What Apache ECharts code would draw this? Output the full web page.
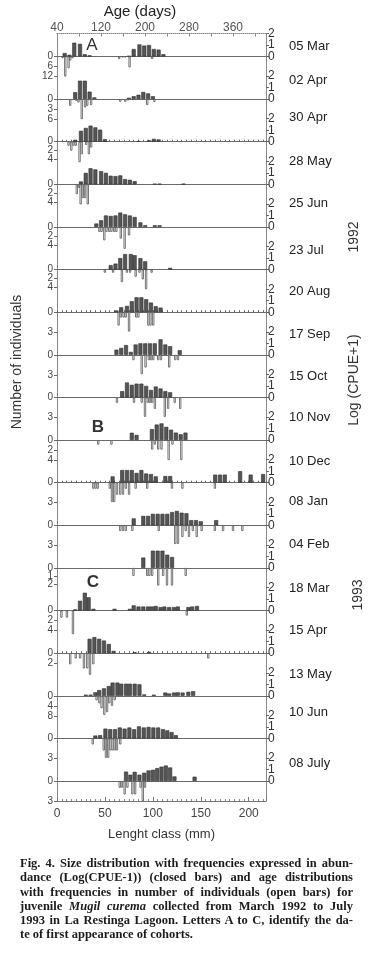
<!DOCTYPE html>
<html>
<head>
<meta charset="utf-8">
<title>Mugil curema - size and age distributions</title>
<script src="https://cdn.jsdelivr.net/npm/echarts@6/dist/echarts.min.js"></script>
<style>
  html, body { margin: 0; padding: 0; background: #fff; }
  #chart { width: 375px; height: 968px; }
  .caption {
    position: absolute; left: 20px; top: 856px; width: 333px;
    font-family: "Liberation Serif", "Times New Roman", serif;
    font-size: 12.5px; line-height: 14.3px; color: #1c1c1c; font-weight: bold;
  }
  .caption div { text-align: justify; text-align-last: justify; }
  .caption div.last { text-align-last: left; }
</style>
</head>
<body>
<div id="chart"></div>
<div class="caption">
  <div>Fig. 4. Size distribution with frequencies expressed in abun-</div>
  <div>dance (Log(CPUE-1)) (closed bars) and age distributions</div>
  <div>with frequencies in number of individuals (open bars) for</div>
  <div>juvenile <i>Mugil curema</i> collected from March 1992 to July</div>
  <div>1993 in La Restinga Lagoon. Letters A to C, identify the da-</div>
  <div class="last">te of first appearance of cohorts.</div>
</div>
<script>
  // sampling dates, top to bottom
  const dates = ['05 Mar', '02 Apr', '30 Apr', '28 May', '25 Jun', '23 Jul', '20 Aug', '17 Sep', '15 Oct',
    '10 Nov', '10 Dec', '08 Jan', '04 Feb', '18 Mar', '15 Apr', '13 May', '10 Jun', '08 July'];

  // closed bars: [length class mm, Log(CPUE+1)]
  const closedMar05 = [[8,0.3],[13,0.15],[18,1.2],[24,1.1],[29,0.2],[34,0.1],[75,0.05],[80,0.65],[86,1.05],[91,0.95],[96,1.0],[101,0.65],[106,0.6],[111,0.2]];
  const closedApr02 = [[19,0.6],[24,1.6],[29,1.6],[34,0.65],[39,0.15],[75,0.12],[80,0.25],[85,0.38],[90,0.62],[95,0.5],[100,0.25]];
  const closedApr30 = [[19,0.17],[25,0.95],[30,1.2],[35,1.4],[40,1.25],[45,1.05],[50,0.22],[85,0.05],[96,0.12],[101,0.25],[106,0.2]];
  const closedMay28 = [[25,0.25],[30,1.0],[35,1.4],[40,1.3],[46,1.15],[51,1.0],[56,0.75],[61,0.72],[66,0.78],[71,0.46],[76,0.4],[81,0.28],[102,0.05],[107,0.05],[132,0.05]];
  const closedJun25 = [[41,0.3],[46,0.58],[51,1.0],[56,0.96],[61,1.0],[66,1.25],[71,1.1],[76,1.0],[81,0.87],[87,0.4],[92,0.15],[102,0.15],[107,0.15]];
  const closedJul23 = [[56,0.38],[61,0.52],[66,1.0],[71,1.35],[77,1.35],[81,1.25],[87,1.0],[92,0.72],[118,0.15]];
  const closedAug20 = [[62,0.15],[67,0.43],[73,0.55],[78,0.96],[83,1.3],[88,1.3],[93,1.13],[98,0.84],[103,0.52],[108,0.4]];
  const closedSep17 = [[62,0.45],[67,0.6],[72,0.85],[77,0.25],[82,0.9],[87,1.0],[92,1.0],[97,1.0],[102,1.0],[108,1.35],[113,0.9],[118,0.75],[128,0.4]];
  const closedOct15 = [[68,0.55],[73,1.3],[78,1.1],[83,1.2],[88,1.2],[93,1.0],[98,0.65],[103,0.95],[108,0.78],[113,0.55],[118,0.45]];
  const closedNov10 = [[78,0.64],[83,0.45],[99,0.95],[104,1.35],[109,1.45],[114,1.15],[119,0.9],[124,0.65],[129,0.5],[134,0.65]];
  const closedDec10 = [[58,0.55],[68,1.1],[73,1.1],[78,1.1],[83,0.85],[88,1.1],[93,0.8],[98,0.75],[103,0.55],[113,0.58],[118,0.58],[165,0.7],[170,0.7],[175,0.7],[191,1.0],[202,0.7],[215,0.75]];
  const closedJan08 = [[80,0.6],[90,0.82],[95,0.82],[100,1.0],[105,1.0],[110,1.0],[115,1.0],[120,1.15],[125,1.25],[130,1.1],[135,1.05],[140,0.45],[145,0.45],[150,0.35],[166,0.45]];
  const closedFeb04 = [[90,0.9],[100,1.5],[105,1.5],[110,1.5],[115,1.15],[120,0.95]];
  const closedMar18 = [[19,0.1],[24,0.85],[29,1.55],[33,1.15],[38,0.15],[60,0.15],[76,0.15],[80,0.45],[85,0.35],[90,0.35],[95,0.35],[99,0.35],[103,0.4],[108,0.3],[112,0.35],[117,0.3],[122,0.3],[126,0.35],[137,0.3],[141,0.35],[146,0.4]];
  const closedApr15 = [[34,1.25],[39,1.4],[44,1.25],[49,1.1],[54,0.8],[59,0.2],[81,0.08],[96,0.12]];
  const closedMay13 = [[30,0.1],[35,0.1],[40,0.3],[44,0.5],[49,0.65],[54,0.85],[58,1.15],[63,1.15],[67,1.05],[72,1.05],[76,1.05],[81,1.05],[86,1.0],[91,0.12],[101,0.1],[113,0.28],[117,0.2],[122,0.28],[126,0.3],[131,0.28],[137,0.35],[142,0.4]];
  const closedJun10 = [[40,0.25],[45,0.28],[50.5,0.85],[55.5,0.8],[60.5,0.8],[65.5,0.95],[70.5,0.85],[75.5,0.95],[80.5,0.8],[85.5,1.05],[90.5,0.95],[95.5,1.0],[100.5,0.95],[105.5,0.95],[110.5,0.8],[115,0.7],[119.5,0.55],[124,0.28]];
  const closedJul08 = [[72,0.82],[76.5,0.55],[81,0.8],[86,0.55],[91,0.72],[95.5,0.92],[100,0.98],[104.5,1.12],[109,1.25],[113.5,1.35],[118,1.18],[122.5,0.4],[143.5,0.38]];

  // open bars: [age days, number of individuals]
  const openMar05 = [[50,1],[55,12],[61,7],[64,2.4],[68,1],[153,1.5],[159,0.5],[164,0.5],[172,6.5],[213,1.5]];
  const openApr02 = [[64,2],[75,0.5],[79,1],[85,6],[91,2.5],[95,2],[102,1.8],[155,0.8],[164,0.8],[169,0.4],[204,1.8],[217,0.8]];
  const openApr30 = [[61,0.9],[66,2],[70,0.9],[74,0.9],[81,4.6],[85,2.8],[93,0.7],[98,2.8],[102,1.3]];
  const openMay28 = [[76,2.2],[80,0.8],[83,4.5],[87,3.1],[91,3.1],[96,4.5]];
  const openJun25 = [[117,1.1],[121,1.1],[126,3.0],[130,1.1],[135,1.1],[139,1.1],[144,1.1],[148,1.1],[156,2.6],[163,4.9],[171,1.9]];
  const openJul23 = [[127,0.7],[142,0.7],[158,2.8],[167,0.7],[173,0.7],[183,1.6],[190,0.7],[196,2.2],[202,4.4],[212,0.7]];
  const openAug20 = [[152,2.0],[156,0.8],[161,0.8],[165,0.8],[171,2.9],[184,0.8],[188,0.8],[206,2.0],[210,2.0],[215,2.0]];
  const openSep17 = [[179,0.8],[194,2.9],[201,1.9],[207,0.8],[211,0.8],[215,0.8],[224,0.8],[229,0.8],[244,1.9],[255,0.8],[260,0.8]];
  const openOct15 = [[149,0.8],[180,0.8],[194,0.8],[200,2.9],[205,0.8],[209,0.8],[213,0.8],[218,1.7],[236,2.9],[242,1.7],[254,0.8],[264,1.7]];
  const openNov10 = [[115,0.9],[139,0.9],[213,1.9],[218,0.9],[224,1.9],[230,1.9],[243,4.0],[250,0.9],[266,4.0]];
  const openDec10 = [[106,0.9],[110,0.9],[114,0.9],[136,0.9],[140,2.9],[144,2.9],[149,1.8],[155,1.8],[160,1.8],[165,0.9],[171,1.8],[183,0.9],[204,0.9],[249,0.9],[268,0.9],[327,0.9]];
  const openJan08 = [[155,0.85],[160,0.85],[165,0.85],[177,0.85],[225,0.85],[255,2.8],[260,2.8],[268,1.75],[274,0.85],[280,1.75],[287,0.85],[294,1.75],[303,0.85],[327,0.85],[342,0.85],[360,0.85],[377,0.85]];
  const openFeb04 = [[179,1.0],[204,1.0],[208,1.0],[213,1.0],[224,2.2],[233,1.0],[240,2.2],[249,2.2],[274,1.0]];
  const openMar18 = [[48,1.4],[58,1.4],[69,4.7],[276,1.0]];
  const openApr15 = [[64,2.1],[74,1.0],[82,1.0],[89,2.9],[95,2.9],[100,4.1],[106,2.1],[315,1.0]];
  const openMay13 = [[112,1.8],[117,3.0],[121,5.0],[126,7.6],[131,6.5],[135,3.0],[140,4.0],[145,1.8]];
  const openJun10 = [[105,0.9],[125,1.8],[129,2.9],[133,2.9],[137,1.8],[141,1.8],[145,1.8],[149,1.8],[155,0.9]];
  const openJul08 = [[154,1.0],[158,1.0],[163,2.0],[168,1.0],[177,2.0],[182,2.0],[192,1.0],[196,3.0],[200,1.0]];

  // left (number of individuals) axis ticks and range of every panel
  const countTicks = [[0,6,12],[0,3,6],[0,2,4],[0,2,4],[0,2,4],[0,2,4],[0,3],[0,3],[0,3],
    [0,2,4],[0,3],[0,3],[0,1,2],[0,2,4],[0,2,4],[0,4,8],[0,3],[0,3]];
  const countMax = [12, 6, 4.5, 4.5, 4.5, 4.5, 3, 3, 3, 4, 3, 3, 2.5, 4, 3.8, 8, 3, 3];
  const cpueTicks = [0, 1, 2];
  const lengthTicks = [0, 50, 100, 150, 200];
  const ageTicks = [40, 120, 200, 280, 360];

  const closedBars = [closedMar05, closedApr02, closedApr30, closedMay28, closedJun25, closedJul23, closedAug20,
    closedSep17, closedOct15, closedNov10, closedDec10, closedJan08, closedFeb04, closedMar18, closedApr15,
    closedMay13, closedJun10, closedJul08];
  const openBars = [openMar05, openApr02, openApr30, openMay28, openJun25, openJul23, openAug20, openSep17,
    openOct15, openNov10, openDec10, openJan08, openFeb04, openMar18, openApr15, openMay13, openJun10, openJul08];

  // layout
  const plotLeft = 57, plotRight = 266, plotBottom = 801;
  const firstBase = 56.5, step = 42.62, upH = 23, downH = 20;
  const dottedPanels = [2, 6, 10, 14];
  const dateLabelY = [46, 80, 117, 161, 203, 250, 291, 334, 376, 417, 461, 501, 544, 588, 630, 674, 712, 763];
  const sans = '"Liberation Sans", Arial, sans-serif';

  let grid = [{ left: plotLeft, width: plotRight - plotLeft, top: firstBase - upH, height: plotBottom - firstBase + upH }];
  let xAxis = [{
    gridIndex: 0, type: 'value', min: 0, max: 218, interval: 50, position: 'bottom',
    name: 'Lenght class (mm)', nameLocation: 'middle', nameGap: 27,
    nameTextStyle: { fontSize: 13, color: '#333', fontFamily: sans },
    axisLine: { onZero: false, lineStyle: { color: '#777' } },
    axisTick: { inside: true, length: 4, lineStyle: { color: '#777' } },
    minorTick: { show: true, splitNumber: 10, length: 2, lineStyle: { color: '#888' } },
    axisLabel: { customValues: lengthTicks, fontSize: 12, color: '#444', margin: 7, fontFamily: sans },
    splitLine: { show: false }
  }, {
    gridIndex: 0, type: 'value', min: 40, max: 420, interval: 40, position: 'top',
    axisLine: { onZero: false, lineStyle: { color: '#888', type: 'dotted' } },
    axisTick: { inside: true, length: 3, lineStyle: { color: '#888' } },
    axisLabel: { customValues: ageTicks, fontSize: 12, lineHeight: 12, color: '#555', margin: 0, fontFamily: sans, showMinLabel: true },
    splitLine: { show: false }
  }];
  let yAxis = [{
    gridIndex: 0, type: 'value', min: 0, max: 1, position: 'left',
    axisLine: { show: true, onZero: false, lineStyle: { color: '#888' } },
    axisTick: { show: false }, axisLabel: { show: false }, splitLine: { show: false }
  }, {
    gridIndex: 0, type: 'value', min: 0, max: 1, position: 'right',
    axisLine: { show: true, onZero: false, lineStyle: { color: '#888' } },
    axisTick: { show: false }, axisLabel: { show: false }, splitLine: { show: false }
  }];
  let series = [];
  let graphics = [];

  // tick labels of a panel sit closer than their own height, so they are split over
  // two coincident axes (even / odd ticks) to keep ECharts from dropping any of them
  function addTickAxes(gridIndex, side, min, max, ticks, inverse, label) {
    let first = -1;
    [0, 1].forEach(part => {
      let values = ticks.filter((t, k) => k % 2 === part);
      if (!values.length) return;
      let idx = yAxis.length;
      if (first < 0) first = idx;
      yAxis.push({
        gridIndex: gridIndex, type: 'value', position: side, inverse: inverse, min: min, max: max,
        axisLine: { show: false, onZero: false },
        axisTick: { show: true, length: 3, customValues: values, lineStyle: { color: '#666' } },
        axisLabel: Object.assign({ customValues: values, showMinLabel: true, showMaxLabel: true, fontFamily: sans }, label),
        splitLine: { show: false }
      });
    });
    return first;
  }

  for (let i = 0; i < dates.length; i++) {
    let base = firstBase + step * i;
    let gUp = grid.length;
    grid.push({ left: plotLeft, width: plotRight - plotLeft, top: base - upH, height: upH });
    let gDown = grid.length;
    grid.push({ left: plotLeft, width: plotRight - plotLeft, top: base, height: downH });
    let dotted = dottedPanels.indexOf(i) >= 0;

    let xUp = xAxis.length;
    xAxis.push({
      gridIndex: gUp, type: 'value', min: 0, max: 218, interval: 5, position: 'bottom',
      axisLine: { show: true, onZero: false, lineStyle: { color: '#6a6a6a', width: 1 } },
      axisTick: { show: dotted, inside: true, length: 2, lineStyle: { color: '#666' } },
      axisLabel: { show: false }, splitLine: { show: false }
    });
    let xDown = xAxis.length;
    xAxis.push({ gridIndex: gDown, type: 'value', min: 40, max: 420, show: false });

    let yUp = addTickAxes(gUp, 'right', 0, 2, cpueTicks, false, { fontSize: 12, color: '#333', margin: 2 });
    let yDown = addTickAxes(gDown, 'left', 0, countMax[i], countTicks[i], true, { fontSize: 10, color: '#444', margin: 4 });

    series.push({
      name: dates[i] + ' closed', type: 'bar', xAxisIndex: xUp, yAxisIndex: yUp,
      data: closedBars[i], barWidth: 4, clip: false, silent: true,
      itemStyle: { color: '#555', borderColor: '#2e2e2e', borderWidth: 0.6 }
    });
    series.push({
      name: dates[i] + ' open', type: 'bar', xAxisIndex: xDown, yAxisIndex: yDown,
      data: openBars[i], barWidth: 2.2, clip: false, silent: true,
      itemStyle: { color: '#fff', borderColor: '#555', borderWidth: 0.8 }
    });

    graphics.push({
      type: 'text', x: 289, y: dateLabelY[i],
      style: { text: dates[i], font: '13px ' + sans, fill: '#222', verticalAlign: 'middle' }
    });
  }

  graphics.push(
    { type: 'text', x: 140, y: 12, style: { text: 'Age (days)', font: '15px ' + sans, fill: '#222', align: 'center', verticalAlign: 'middle' } },
    { type: 'text', x: 17, y: 362, rotation: Math.PI / 2, style: { text: 'Number of individuals', font: '14px ' + sans, fill: '#333', align: 'center', verticalAlign: 'middle' } },
    { type: 'text', x: 354, y: 380, rotation: Math.PI / 2, style: { text: 'Log (CPUE+1)', font: '14px ' + sans, fill: '#333', align: 'center', verticalAlign: 'middle' } },
    { type: 'text', x: 354, y: 237, rotation: Math.PI / 2, style: { text: '1992', font: '14px ' + sans, fill: '#333', align: 'center', verticalAlign: 'middle' } },
    { type: 'text', x: 358, y: 595, rotation: Math.PI / 2, style: { text: '1993', font: '14px ' + sans, fill: '#333', align: 'center', verticalAlign: 'middle' } },
    { type: 'text', x: 92, y: 45, style: { text: 'A', font: '17px ' + sans, fill: '#333', align: 'center', verticalAlign: 'middle' } },
    { type: 'text', x: 98, y: 427, style: { text: 'B', font: 'bold 17px ' + sans, fill: '#333', align: 'center', verticalAlign: 'middle' } },
    { type: 'text', x: 93, y: 582, style: { text: 'C', font: 'bold 17px ' + sans, fill: '#333', align: 'center', verticalAlign: 'middle' } }
  );

  let option = {
    backgroundColor: '#fff',
    animation: false,
    grid: grid,
    xAxis: xAxis,
    yAxis: yAxis,
    series: series,
    graphic: { elements: graphics }
  };
  let chartDom = echarts.init(document.getElementById('chart'));
  chartDom.setOption(option);
</script>
</body>
</html>
